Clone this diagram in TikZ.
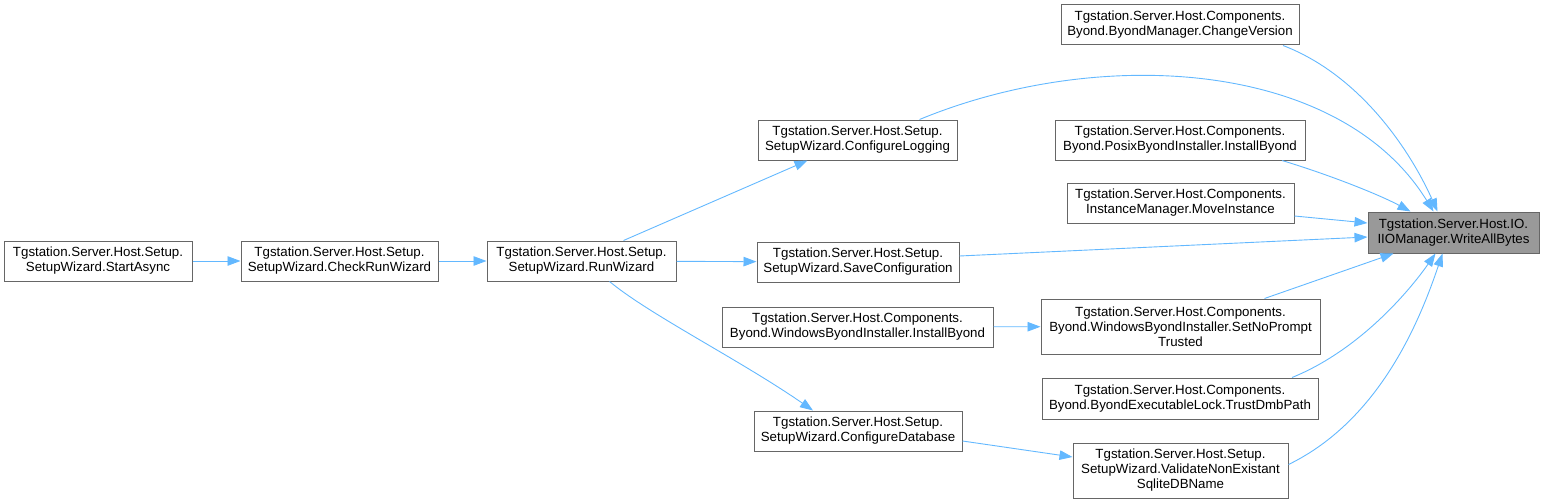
\documentclass[tikz,border=0pt]{standalone}
\usepackage{fontspec}
\setmainfont{Liberation Sans}
\usetikzlibrary{arrows.meta}
\definecolor{edgeblue}{HTML}{63B8FF}
\definecolor{boxgrey}{HTML}{666666}
\definecolor{mainfill}{HTML}{999999}
\tikzset{
  fn/.style={draw=boxgrey, line width=1pt, fill=white, inner sep=0pt, align=center,
    font=\fontsize{13.3}{15}\selectfont, text=black},
  fnmain/.style={fn, fill=mainfill},
  call/.style={draw=edgeblue, line width=0.9pt, -{Triangle[length=13pt,width=9.5pt]}},
}
\begin{document}
\begin{tikzpicture}[x=1pt,y=-1pt]
\useasboundingbox (0,0) rectangle (1544,503);
% nodes
\node[fnmain, minimum width=171pt, minimum height=41pt] (wab) at (1453.5,232.5) {Tgstation.Server.Host.IO.\\IIOManager.WriteAllBytes};
\node[fn, minimum width=238pt, minimum height=40pt] (cv) at (1180,25) {Tgstation.Server.Host.Components.\\Byond.ByondManager.ChangeVersion};
\node[fn, minimum width=250pt, minimum height=40pt] (posix) at (1180,140) {Tgstation.Server.Host.Components.\\Byond.PosixByondInstaller.InstallByond};
\node[fn, minimum width=227pt, minimum height=40pt] (move) at (1180.5,203) {Tgstation.Server.Host.Components.\\InstanceManager.MoveInstance};
\node[fn, minimum width=279pt, minimum height=55pt] (snp) at (1180.5,326.5) {Tgstation.Server.Host.Components.\\Byond.WindowsByondInstaller.SetNoPrompt\\Trusted};
\node[fn, minimum width=276pt, minimum height=41pt] (tdp) at (1180,398.5) {Tgstation.Server.Host.Components.\\Byond.ByondExecutableLock.TrustDmbPath};
\node[fn, minimum width=215pt, minimum height=55pt] (val) at (1180.5,470.5) {Tgstation.Server.Host.Setup.\\SetupWizard.ValidateNonExistant\\SqliteDBName};
\node[fn, minimum width=199pt, minimum height=40pt] (cl) at (857.5,140) {Tgstation.Server.Host.Setup.\\SetupWizard.ConfigureLogging};
\node[fn, minimum width=202pt, minimum height=40pt] (sc) at (858,262) {Tgstation.Server.Host.Setup.\\SetupWizard.SaveConfiguration};
\node[fn, minimum width=271pt, minimum height=40pt] (wbi) at (857.5,327) {Tgstation.Server.Host.Components.\\Byond.WindowsByondInstaller.InstallByond};
\node[fn, minimum width=208pt, minimum height=40pt] (cd) at (858,431) {Tgstation.Server.Host.Setup.\\SetupWizard.ConfigureDatabase};
\node[fn, minimum width=189pt, minimum height=40pt] (rw) at (581.5,261) {Tgstation.Server.Host.Setup.\\SetupWizard.RunWizard};
\node[fn, minimum width=197pt, minimum height=40pt] (crw) at (339.5,261) {Tgstation.Server.Host.Setup.\\SetupWizard.CheckRunWizard};
\node[fn, minimum width=188pt, minimum height=40pt] (sa) at (98,261) {Tgstation.Server.Host.Setup.\\SetupWizard.StartAsync};
% edges
\draw[call] (sa) -- (crw);
\draw[call] (crw) -- (rw);
\draw[call] ([xshift=42pt]rw.north) -- ([xshift=-50pt]cl.south);
\draw[call] (rw) -- (sc);
\draw[call] ([xshift=28pt]rw.south) .. controls (650,315) and (740,360) .. ([xshift=-45pt]cd.north);
\draw[call] ([xshift=62pt]cl.north) .. controls (1100,45) and (1340,60) .. ([xshift=-20pt]wab.north);
\draw[call] ([xshift=103pt]cv.south) .. controls (1360,75) and (1410,150) .. ([xshift=-16pt]wab.north);
\draw[call] ([xshift=102pt]posix.south) .. controls (1330,175) and (1380,195) .. ([xshift=-43pt]wab.north);
\draw[call] ([yshift=-13pt]move.east) -- ([yshift=9.5pt]wab.west);
\draw[call] ([yshift=6pt]sc.east) -- ([yshift=-4.5pt]wab.west);
\draw[call] ([xshift=84pt]snp.north) -- ([xshift=-60pt]wab.south);
\draw[call] ([xshift=112pt]tdp.north) .. controls (1360,350) and (1410,290) .. ([xshift=-18pt]wab.south);
\draw[call] ([yshift=-22pt]val.north east) .. controls (1380,420) and (1420,320) .. ([xshift=-11pt]wab.south);
\draw[call] ([yshift=-10pt]cd.east) -- ([yshift=13.5pt]val.west);
\draw[call] (wbi) -- (snp);
\end{tikzpicture}
\end{document}
